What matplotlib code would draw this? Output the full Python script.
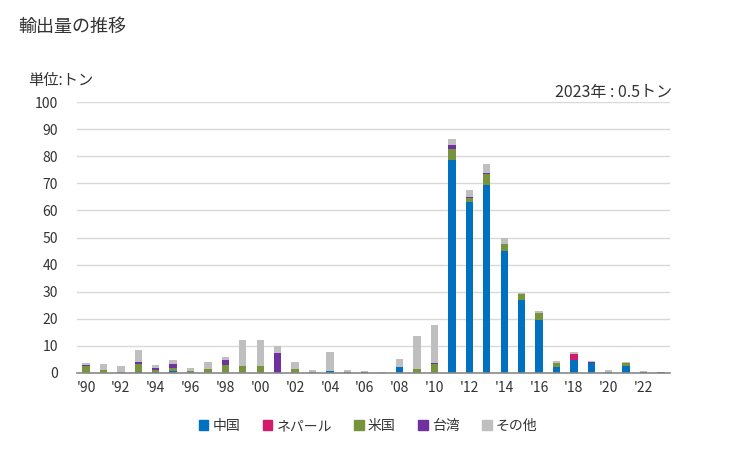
import numpy as np
import matplotlib.pyplot as plt
from matplotlib.patches import Patch

plt.rcParams['font.family'] = ['Noto Sans CJK JP', 'DejaVu Sans']

years = list(range(1990, 2024))
china = [0, 0, 0, 0.5, 0.5, 0.9, 0, 0, 0, 0, 0,
         0, 0, 0, 0.7, 0.5, 0.5, 0, 2.2, 0, 0,
         78.6, 63.0, 69.3, 44.9, 27.1, 19.7, 2.2, 4.8, 3.7, 0.4, 2.6, 0, 0]
nepal = [0, 0, 0, 0, 0, 0, 0, 0, 0, 0, 0,
         0, 0, 0, 0, 0, 0, 0, 0, 0, 0,
         0, 0, 0, 0, 0, 0, 0, 2.2, 0, 0, 0, 0, 0]
usa = [2.6, 1.1, 0.5, 3.0, 0.6, 1.1, 0.9, 1.6, 3.0, 2.7, 2.7,
       0, 1.5, 0.5, 0, 0, 0, 0, 0, 1.5, 3.5,
       4.1, 1.5, 4.0, 2.6, 2.2, 2.6, 1.5, 0, 0, 0, 1.1, 0, 0]
taiwan = [0.4, 0, 0, 0.4, 0.7, 1.5, 0, 0, 1.85, 0, 0,
          7.5, 0, 0, 0, 0, 0, 0, 0, 0, 0.35,
          1.5, 0.4, 0.5, 0, 0, 0, 0, 0, 0.4, 0, 0, 0.5, 0.35]
other = [0.7, 2.2, 2.1, 4.7, 1.1, 1.4, 1.0, 2.5, 0.9, 9.5, 9.5,
         2.5, 2.6, 0.6, 7.0, 0.6, 0.25, 0.4, 3.0, 12.2, 13.7,
         2.2, 2.6, 3.3, 2.3, 0.4, 0.4, 0.7, 0.7, 0.25, 0.7, 0.4, 0.25, 0.15]

series = [('中国', china, '#0070C0'),
          ('ネパール', nepal, '#D01C6A'),
          ('米国', usa, '#77933C'),
          ('台湾', taiwan, '#7030A0'),
          ('その他', other, '#BFBFBF')]

tick_labels = ["'%02d" % (y % 100) for y in years[::2]]

fig = plt.figure(figsize=(7.29, 4.5), dpi=100)
ax = fig.add_axes([77.3 / 729, 1 - 373 / 450, (669.7 - 77.3) / 729, (373 - 102) / 450])

x = np.arange(len(years))
bottom = np.zeros(len(years))
for name, vals, col in series:
    v = np.array(vals)
    ax.bar(x, v, 0.42, bottom=bottom, color=col, zorder=3)
    bottom += v

ax.set_xlim(-0.5, len(years) - 0.5)
ax.set_ylim(0, 100)
ax.set_yticks(range(0, 101, 10))
ax.set_xticks(x[::2])
ax.set_xticklabels(tick_labels)
ax.yaxis.grid(True, color='#D9D9D9', linewidth=1, zorder=0)
for s in ['top', 'right', 'left']:
    ax.spines[s].set_visible(False)
ax.spines['bottom'].set_color('#898989')
ax.spines['bottom'].set_linewidth(1.2)
ax.spines['bottom'].set_zorder(4)
ax.tick_params(axis='both', length=0, labelsize=10, colors='#333333')
ax.tick_params(axis='y', pad=14)
ax.tick_params(axis='x', pad=6)

fig.text(18 / 729, 1 - 27 / 450, '輸出量の推移', fontsize=13, va='center', ha='left', color='#333333')
fig.text(28 / 729, 1 - 80 / 450, '単位:トン', fontsize=11, va='center', ha='left', color='#333333')
fig.text(672 / 729, 1 - 92 / 450, '2023年 : 0.5トン', fontsize=11.5, va='center', ha='right', color='#333333')

handles = [Patch(color=c, label=n) for n, _, c in series]
fig.legend(handles=handles, loc='center', bbox_to_anchor=(368 / 729, 1 - 426 / 450), ncol=5,
           frameon=False, fontsize=10, handlelength=0.7, handleheight=0.7,
           handletextpad=0.3, columnspacing=1.6, labelcolor='#333333')

fig.savefig('out.png', dpi=100)
